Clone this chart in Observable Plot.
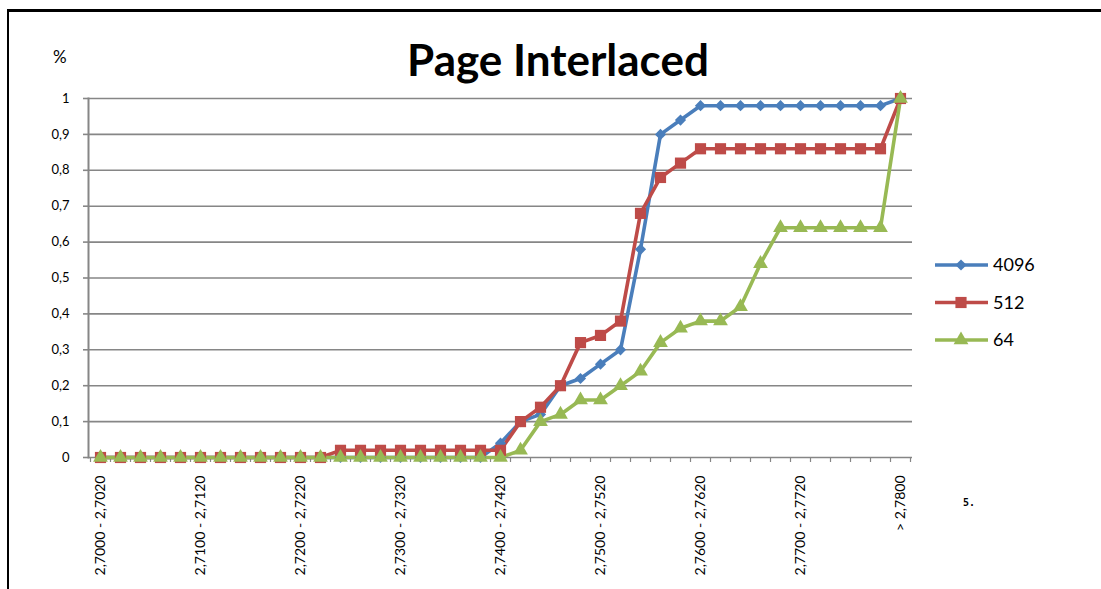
<!DOCTYPE html>
<html>
<head>
<meta charset="utf-8">
<script src="https://cdn.jsdelivr.net/npm/d3@7"></script>
<script src="https://cdn.jsdelivr.net/npm/@observablehq/plot@0.6"></script>
<style>
  html, body { margin: 0; padding: 0; background: #fff; }
  #wrap { position: relative; width: 1101px; height: 589px; overflow: hidden; font-family: Lato, "Open Sans", sans-serif; }
  #border { position: absolute; left: 7px; top: 9px; right: -10px; bottom: -10px; border-left: 2px solid #000; border-top: 3px solid #000; }
  #title { position: absolute; left: 0; width: 1116px; top: 35px; text-align: center; font-size: 44px; font-weight: 700; color: #000; line-height: 1.1; }
  #pct { position: absolute; left: 53px; top: 46px; font-size: 17px; color: #000; }
  #stray { position: absolute; left: 963px; top: 497px; font-family: "DejaVu Sans Mono", monospace; font-weight: bold; font-size: 10px; color: #000; }
  #legend { position: absolute; left: 930px; top: 250px; }
  #chart { position: absolute; left: 0; top: 0; }
</style>
</head>
<body>
<div id="wrap">
  <div id="chart"></div>
  <div id="border"></div>
  <div id="title">Page Interlaced</div>
  <div id="pct">%</div>
  <div id="legend"></div>
  <div id="stray">5.</div>
</div>
<script>
// Categories (bins)
const categories = [
  "2,7000 - 2,7020","2,7020 - 2,7040","2,7040 - 2,7060","2,7060 - 2,7080","2,7080 - 2,7100",
  "2,7100 - 2,7120","2,7120 - 2,7140","2,7140 - 2,7160","2,7160 - 2,7180","2,7180 - 2,7200",
  "2,7200 - 2,7220","2,7220 - 2,7240","2,7240 - 2,7260","2,7260 - 2,7280","2,7280 - 2,7300",
  "2,7300 - 2,7320","2,7320 - 2,7340","2,7340 - 2,7360","2,7360 - 2,7380","2,7380 - 2,7400",
  "2,7400 - 2,7420","2,7420 - 2,7440","2,7440 - 2,7460","2,7460 - 2,7480","2,7480 - 2,7500",
  "2,7500 - 2,7520","2,7520 - 2,7540","2,7540 - 2,7560","2,7560 - 2,7580","2,7580 - 2,7600",
  "2,7600 - 2,7620","2,7620 - 2,7640","2,7640 - 2,7660","2,7660 - 2,7680","2,7680 - 2,7700",
  "2,7700 - 2,7720","2,7720 - 2,7740","2,7740 - 2,7760","2,7760 - 2,7780","2,7780 - 2,7800",
  "> 2,7800"
];
const tickLabels = ["2,7000 - 2,7020","2,7100 - 2,7120","2,7200 - 2,7220","2,7300 - 2,7320","2,7400 - 2,7420","2,7500 - 2,7520","2,7600 - 2,7620","2,7700 - 2,7720","> 2,7800"];
const yTicks = [0,0.1,0.2,0.3,0.4,0.5,0.6,0.7,0.8,0.9,1];

const s4096 = [0,0,0,0,0,0,0,0,0,0, 0,0,0,0,0,0,0,0,0,0,
  0.04,0.10,0.12,0.20,0.22,0.26,0.30,0.58,0.90,0.94,
  0.98,0.98,0.98,0.98,0.98,0.98,0.98,0.98,0.98,0.98, 1.0];
const s512 = [0,0,0,0,0,0,0,0,0,0, 0,0,0.02,0.02,0.02,0.02,0.02,0.02,0.02,0.02,
  0.02,0.10,0.14,0.20,0.32,0.34,0.38,0.68,0.78,0.82,
  0.86,0.86,0.86,0.86,0.86,0.86,0.86,0.86,0.86,0.86, 1.0];
const s64 = [0,0,0,0,0,0,0,0,0,0, 0,0,0,0,0,0,0,0,0,0,
  0,0.02,0.10,0.12,0.16,0.16,0.20,0.24,0.32,0.36,
  0.38,0.38,0.42,0.54,0.64,0.64,0.64,0.64,0.64,0.64, 1.0];

const seriesNames = ["4096", "512", "64"];
const seriesValues = [s4096, s512, s64];
const colors = ["#4A7EBB", "#BE4B48", "#98B954"];
const symbols = ["diamond2", "square", "triangle"];
const symbolSizes = [80, 125, 95];

const rows = seriesNames.flatMap((name, k) =>
  categories.map((c, i) => ({series: name, cat: c, value: seriesValues[k][i]})));

const fmt = d => d === 0 ? "0" : d === 1 ? "1" : String(d.toFixed(1)).replace(".", ",");

const marks = [
  Plot.gridY(yTicks, {stroke: "#868686", strokeOpacity: 1, strokeWidth: 1.6}),
  Plot.axisY(yTicks, {tickSize: 5, tickPadding: 14, tickFormat: fmt, stroke: "#868686", strokeWidth: 1.6, fontSize: 13, fill: "#000", label: null}),
  Plot.axisX(categories, {tickSize: 5, dx: -10, text: null, stroke: "#868686", strokeWidth: 1.2, label: null}),
  Plot.axisX([categories[categories.length - 1]], {tickSize: 5, dx: 10, text: null, stroke: "#868686", strokeWidth: 1.2, label: null}),
  Plot.axisX(tickLabels, {tickSize: 0, tickPadding: 18, tickRotate: -90, fontSize: 14, fill: "#000", label: null}),
  Plot.frame({anchor: "left", stroke: "#868686", strokeWidth: 2}),
];
seriesNames.forEach((name, k) => {
  const data = rows.filter(r => r.series === name);
  marks.push(Plot.line(data, {x: "cat", y: "value", stroke: colors[k], strokeWidth: 3.6}));
});
seriesNames.forEach((name, k) => {
  const data = rows.filter(r => r.series === name);
  marks.push(Plot.dot(data, {x: "cat", y: "value", symbol: () => symbols[k], fill: colors[k], stroke: "none", r: Math.sqrt(symbolSizes[k] / Math.PI)}));
});

const chart = Plot.plot({
  width: 1101,
  height: 589,
  marginLeft: 88,
  marginRight: 189,
  marginTop: 98,
  marginBottom: 132,
  style: {fontFamily: "Lato, 'Open Sans', sans-serif", fontSize: "13px", background: "transparent"},
  x: {type: "band", domain: categories, padding: 0, axis: null},
  y: {domain: [0, 1], axis: null},
  marks
});
document.getElementById("chart").appendChild(chart);

// Legend
const lg = d3.select("#legend").append("svg").attr("width", 160).attr("height", 110);
seriesNames.forEach((name, k) => {
  const y = 15 + k * 37.5;
  const g = lg.append("g").attr("transform", `translate(0,${y})`);
  g.append("line").attr("x1", 5).attr("x2", 58).attr("y1", 0).attr("y2", 0).attr("stroke", colors[k]).attr("stroke-width", 3.6);
  g.append("path").attr("transform", "translate(31,0)")
    .attr("d", d3.symbol(k === 0 ? d3.symbolDiamond2 : k === 1 ? d3.symbolSquare : d3.symbolTriangle, symbolSizes[k])())
    .attr("fill", colors[k]);
  g.append("text").attr("x", 63).attr("y", 0).attr("dy", "0.35em").attr("font-size", 18)
    .attr("font-family", "Lato, 'Open Sans', sans-serif").attr("fill", "#000").text(name);
});
</script>
</body>
</html>
